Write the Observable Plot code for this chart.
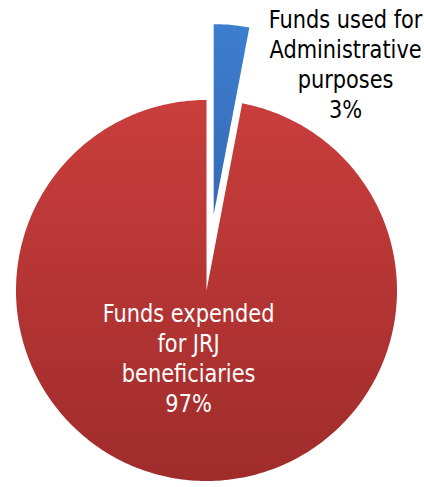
<!DOCTYPE html>
<html>
<head>
<meta charset="utf-8">
<script src="https://cdn.jsdelivr.net/npm/d3@7"></script>
<script src="https://cdn.jsdelivr.net/npm/@observablehq/plot@0.6"></script>
<style>
  html, body { margin: 0; padding: 0; background: #fff; }
  #chart svg { display: block; }
</style>
</head>
<body>
<div id="chart"></div>
<script>
// Data
const categories = ["Funds used for Administrative purposes", "Funds expended for JRJ beneficiaries"];
const labelLines = [["Funds used for", "Administrative", "purposes"], ["Funds expended", "for JRJ", "beneficiaries"]];
const values = [3, 97];
const explode = [0.4, 0];

// Geometry in pie units (radius = 1, y up)
const pie = d3.pie().sort(null).value(d => d)(values);
const slices = pie.map((p, i) => {
  const mid = (p.startAngle + p.endAngle) / 2;
  const ox = Math.sin(mid) * explode[i], oy = Math.cos(mid) * explode[i];
  const pts = [{x: ox, y: oy, k: i}];
  const n = Math.max(2, Math.ceil((p.endAngle - p.startAngle) / (Math.PI / 180)));
  for (let j = 0; j <= n; j++) {
    const a = p.startAngle + (p.endAngle - p.startAngle) * j / n;
    pts.push({x: ox + Math.sin(a), y: oy + Math.cos(a), k: i});
  }
  return pts;
});

const R = 190.5, cx = 206, cy = 290, W = 424, H = 487;
const labels = [
  {x: 0.73, y: 1.19, text: labelLines[0].join("\n") + "\n" + values[0] + "%", fill: "#000"},
  {x: -0.094, y: -0.35, text: labelLines[1].join("\n") + "\n" + values[1] + "%", fill: "#fff"}
];

const fills = ["url(#gBlue)", "url(#gRed)"];

const chart = Plot.plot({
  width: W, height: H, margin: 0,
  x: {domain: [-cx / R, (W - cx) / R], axis: null},
  y: {domain: [-(H - cy) / R, cy / R], axis: null},
  style: {background: "#fff"},
  marks: [
    ...slices.map((pts, i) => Plot.line(pts, {x: "x", y: "y", fill: fills[i], stroke: "none", curve: "linear",
      style: "filter: drop-shadow(1.5px 1.5px 1.5px rgba(0,0,0,0.35))"})),
    Plot.text(labels, {x: "x", y: "y", text: "text", fill: "fill", fontSize: 25, lineHeight: 1.2,
      className: "pie-label",
      fontFamily: "'Liberation Sans Narrow', 'Arial Narrow', 'DejaVu Sans Condensed', sans-serif"})
  ]
});

const svg = d3.select(chart);
// condense label glyphs horizontally
svg.selectAll("g.pie-label text").each(function() {
  const t = this.getAttribute("transform") || "";
  this.setAttribute("transform", t + " scale(0.93,1)");
});
const defs = svg.insert("defs", ":first-child");
const g1 = defs.append("linearGradient").attr("id", "gRed").attr("x1", 0).attr("y1", 0).attr("x2", 0).attr("y2", 1);
g1.append("stop").attr("offset", "0%").attr("stop-color", "#c93e3c");
g1.append("stop").attr("offset", "100%").attr("stop-color", "#9f2c2b");
const g2 = defs.append("linearGradient").attr("id", "gBlue").attr("x1", 0).attr("y1", 0).attr("x2", 0).attr("y2", 1);
g2.append("stop").attr("offset", "0%").attr("stop-color", "#3d7ecf");
g2.append("stop").attr("offset", "100%").attr("stop-color", "#3669b4");

document.getElementById("chart").appendChild(chart);
</script>
</body>
</html>
